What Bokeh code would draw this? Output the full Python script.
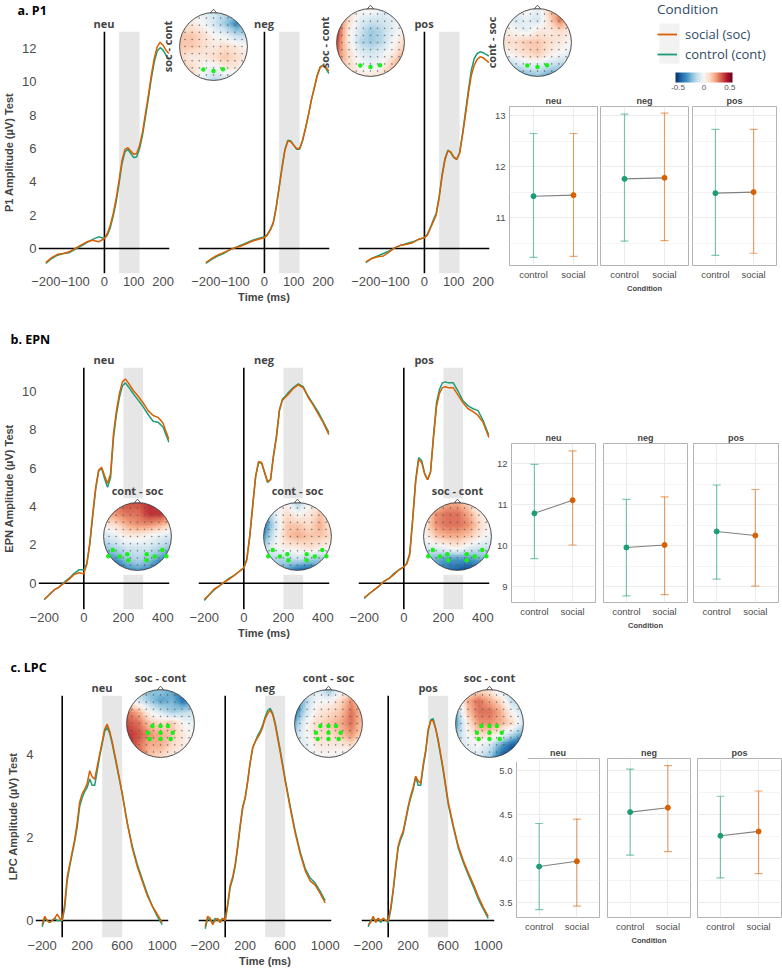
import numpy as np
from bokeh.plotting import figure
from bokeh.layouts import column
from bokeh.models import (Range1d, FactorRange, FixedTicker, Span, BoxAnnotation, GridBox,
                          LinearColorMapper, ColorBar, Legend, LegendItem, Title, Whisker,
                          TeeHead, Grid, CategoricalTicker, ColumnDataSource,
                          PrintfTickFormatter, NumeralTickFormatter)
from bokeh.core.properties import value
from bokeh.embed import file_html
from bokeh.resources import INLINE

# ============================ DATA ============================
conditions = ["neu", "neg", "pos"]
groups = ["control", "social"]

# ---- a. P1 ERP (µV) ----
p1_time = [-200, -180, -160, -140, -120, -100, -80, -60, -40, -20, 0, 10, 20, 30, 40, 50, 60, 70, 80, 90,
           100, 110, 120, 130, 140, 150, 160, 170, 180, 190, 200, 210, 220]
p1_neu_social = [-0.85, -0.55, -0.35, -0.3, -0.2, 0.0, 0.2, 0.4, 0.5, 0.4, 0.6, 0.9, 1.4, 2.1, 3.0, 4.1, 5.3, 5.95, 6.05, 5.85,
                 5.65, 5.7, 6.2, 7.0, 8.1, 9.2, 10.4, 11.4, 12.1, 12.38, 12.2, 11.9, 11.7]
p1_neu_control = [-0.9, -0.6, -0.4, -0.3, -0.25, -0.05, 0.15, 0.35, 0.55, 0.7, 0.6, 0.8, 1.25, 1.95, 2.8, 3.9, 5.1, 5.8, 5.95, 5.7,
                  5.45, 5.5, 6.0, 6.8, 7.9, 9.0, 10.2, 11.2, 11.85, 12.05, 11.9, 11.6, 11.4]
p1_neg_social = [-0.85, -0.6, -0.4, -0.25, -0.1, 0.05, 0.15, 0.3, 0.45, 0.55, 0.65, 0.8, 1.1, 1.5, 2.4, 3.6, 4.8, 5.9, 6.45, 6.4,
                 6.2, 6.0, 6.0, 6.5, 7.2, 8.0, 8.9, 9.6, 10.35, 10.85, 10.98, 10.85, 10.65]
p1_neg_control = [-0.9, -0.65, -0.45, -0.3, -0.1, 0.05, 0.2, 0.35, 0.5, 0.6, 0.7, 0.85, 1.15, 1.55, 2.5, 3.7, 4.9, 5.95, 6.5, 6.45,
                  6.2, 5.95, 5.95, 6.45, 7.2, 8.0, 8.9, 9.65, 10.4, 10.9, 11.0, 10.8, 10.5]
p1_pos_social = [-0.8, -0.6, -0.5, -0.45, -0.2, 0.05, 0.2, 0.25, 0.35, 0.55, 0.65, 0.8, 1.2, 1.6, 2.0, 3.0, 4.3, 5.3, 5.85, 5.8,
                 5.5, 5.35, 5.7, 6.8, 8.0, 9.3, 10.4, 11.0, 11.35, 11.5, 11.45, 11.3, 11.15]
p1_pos_control = [-0.85, -0.6, -0.45, -0.3, -0.15, 0.05, 0.2, 0.3, 0.4, 0.55, 0.65, 0.85, 1.25, 1.7, 2.1, 3.1, 4.4, 5.4, 5.9, 5.75,
                  5.45, 5.35, 5.75, 6.9, 8.2, 9.5, 10.7, 11.4, 11.7, 11.8, 11.75, 11.65, 11.55]
p1_window = [50, 120]
p1_xticks = [-200, -100, 0, 100, 200]
p1_yticks = [0, 2, 4, 6, 8, 10, 12]

# ---- b. EPN ERP (µV) ----
epn_time = [-200, -175, -150, -125, -100, -75, -50, -25, 0, 15, 30, 45, 60, 75, 90, 105, 120, 135, 150, 165,
            180, 195, 210, 225, 250, 275, 300, 325, 350, 375, 400, 430]
epn_neu_social = [-0.85, -0.6, -0.35, -0.2, 0.0, 0.2, 0.45, 0.55, 0.5, 1.0, 2.1, 3.6, 5.0, 5.9, 6.05, 5.6, 5.2, 5.7, 7.8, 9.0,
                  9.9, 10.5, 10.65, 10.45, 10.05, 9.75, 9.4, 9.0, 8.75, 8.65, 8.35, 7.5]
epn_neu_control = [-0.85, -0.6, -0.35, -0.2, 0.05, 0.25, 0.5, 0.7, 0.7, 1.0, 2.0, 3.5, 4.9, 5.85, 6.0, 5.45, 5.0, 5.5, 7.6, 8.8,
                   9.7, 10.3, 10.45, 10.25, 9.88, 9.55, 9.2, 8.8, 8.45, 8.4, 8.15, 7.35]
epn_neg_social = [-0.85, -0.6, -0.3, -0.15, 0.05, 0.2, 0.4, 0.6, 0.8, 1.2, 2.4, 4.0, 5.6, 6.35, 6.3, 5.8, 5.3, 5.4, 6.6, 7.6,
                  9.0, 9.55, 9.7, 9.85, 10.15, 10.35, 10.2, 9.7, 9.3, 8.85, 8.4, 7.75]
epn_neg_control = [-0.9, -0.6, -0.35, -0.15, 0.05, 0.25, 0.4, 0.6, 0.8, 1.25, 2.5, 4.1, 5.6, 6.3, 6.25, 5.75, 5.25, 5.4, 6.7, 7.7,
                   9.05, 9.6, 9.75, 9.95, 10.2, 10.4, 10.25, 9.75, 9.35, 8.95, 8.45, 7.85]
epn_pos_social = [-0.75, -0.55, -0.35, -0.15, 0.1, 0.25, 0.45, 0.7, 0.85, 1.0, 1.5, 3.3, 5.3, 6.45, 6.3, 5.7, 5.4, 5.8, 7.6, 9.2,
                  9.9, 10.2, 10.25, 10.2, 10.2, 9.8, 9.4, 9.1, 8.95, 8.75, 8.4, 7.6]
epn_pos_control = [-0.8, -0.55, -0.35, -0.15, 0.1, 0.25, 0.5, 0.7, 0.85, 1.05, 1.55, 3.4, 5.4, 6.55, 6.4, 5.75, 5.4, 5.8, 7.7, 9.4,
                   10.1, 10.45, 10.5, 10.45, 10.45, 10.0, 9.5, 9.25, 9.1, 9.0, 8.5, 7.7]
epn_window = [200, 300]
epn_xticks = [-200, 0, 200, 400]
epn_yticks = [0, 2, 4, 6, 8, 10]

# ---- c. LPC ERP (µV) ----
lpc_time = [-200, -175, -150, -125, -100, -75, -50, -25, 0, 25, 50, 75, 100, 125, 150, 175, 200, 225, 250, 275,
            300, 325, 350, 375, 400, 425, 450, 475, 500, 550, 600, 650, 700, 750, 800, 850, 900, 950, 1000]
lpc_neu_social = [-0.1, 0.1, 0.0, -0.05, 0.0, 0.05, 0.15, 0.05, 0.0,
                  0.4, 1.05, 1.35, 1.65, 1.95, 2.35, 2.85, 3.05, 3.15, 3.3, 3.6, 3.45, 3.4, 3.7, 4.0, 4.3, 4.6, 4.72, 4.55, 4.3,
                  3.7, 3.05, 2.35, 1.75, 1.3, 0.95, 0.6, 0.35, 0.15, -0.05]
lpc_neu_control = [-0.15, 0.05, 0.0, -0.05, 0.0, 0.05, 0.0, 0.0, 0.0,
                   0.3, 0.95, 1.3, 1.6, 1.9, 2.25, 2.75, 2.95, 3.1, 3.2, 3.4, 3.25, 3.25, 3.6, 3.95, 4.25, 4.55, 4.64, 4.5, 4.25,
                   3.65, 3.05, 2.35, 1.8, 1.35, 1.0, 0.65, 0.35, 0.1, -0.1]
lpc_neg_social = [-0.15, 0.1, 0.05, -0.1, 0.0, 0.05, -0.05, 0.05, 0.0,
                  0.4, 0.85, 1.05, 1.35, 1.8, 2.3, 2.75, 2.95, 3.35, 3.8, 4.15, 4.3, 4.4, 4.5, 4.65, 4.85, 4.98, 5.05, 4.95, 4.7,
                  4.05, 3.35, 2.7, 2.1, 1.6, 1.2, 0.95, 0.85, 0.65, 0.42]
lpc_neg_control = [-0.2, 0.05, 0.0, -0.05, 0.05, 0.0, 0.0, 0.05, 0.0,
                   0.35, 0.8, 1.0, 1.3, 1.75, 2.25, 2.7, 2.95, 3.35, 3.8, 4.15, 4.3, 4.45, 4.55, 4.7, 4.9, 5.05, 5.1, 4.98, 4.75,
                   4.1, 3.4, 2.75, 2.15, 1.65, 1.25, 1.02, 0.9, 0.7, 0.48]
lpc_pos_social = [-0.1, -0.05, 0.1, -0.05, 0.05, 0.0, 0.05, 0.0, 0.0,
                  0.3, 0.75, 1.3, 1.8, 2.0, 2.15, 2.45, 2.75, 3.0, 3.2, 3.47, 3.35, 3.3, 3.75, 4.1, 4.6, 4.8, 4.8, 4.6, 4.35,
                  3.65, 2.85, 2.3, 1.8, 1.45, 1.15, 0.88, 0.58, 0.32, 0.1]
lpc_pos_control = [-0.15, 0.0, 0.05, 0.0, 0.05, -0.05, 0.05, 0.0, -0.05,
                   0.25, 0.7, 1.25, 1.75, 1.95, 2.1, 2.4, 2.7, 2.95, 3.15, 3.45, 3.25, 3.25, 3.7, 4.05, 4.55, 4.82, 4.85, 4.62, 4.3,
                   3.6, 2.8, 2.25, 1.75, 1.4, 1.1, 0.82, 0.52, 0.28, 0.05]
lpc_window = [400, 600]
lpc_xticks = [-200, 200, 600, 1000]
lpc_yticks = [0, 2, 4]

# ---- mean amplitude with 95% CI (order: neu, neg, pos) ----
p1_control_mean = [11.42, 11.76, 11.48]
p1_control_low = [10.22, 10.54, 10.26]
p1_control_high = [12.65, 13.03, 12.73]
p1_social_mean = [11.44, 11.78, 11.50]
p1_social_low = [10.24, 10.55, 10.30]
p1_social_high = [12.65, 13.05, 12.73]
p1_ci_yticks = [11, 12, 13]
p1_ci_minor = [10.5, 11.5, 12.5]

epn_control_mean = [10.79, 9.96, 10.35]
epn_control_low = [9.69, 8.78, 9.19]
epn_control_high = [11.98, 11.13, 11.48]
epn_social_mean = [11.11, 10.02, 10.25]
epn_social_low = [10.02, 8.81, 9.02]
epn_social_high = [12.31, 11.19, 11.37]
epn_ci_yticks = [9, 10, 11, 12]
epn_ci_minor = [9.5, 10.5, 11.5]

lpc_control_mean = [3.91, 4.53, 4.26]
lpc_control_low = [3.42, 4.04, 3.78]
lpc_control_high = [4.40, 5.02, 4.71]
lpc_social_mean = [3.97, 4.58, 4.31]
lpc_social_low = [3.46, 4.08, 3.83]
lpc_social_high = [4.45, 5.06, 4.77]
lpc_ci_yticks = [3.5, 4.0, 4.5, 5.0]
lpc_ci_minor = [3.75, 4.25, 4.75]

# ---- topographies: difference (µV), 7x7 grid, rows front -> back, cols left -> right ----
p1_topo_labels = ["soc - cont", "soc - cont", "cont - soc"]
p1_topo_neu = [[0.0, 0.0, -0.05, -0.1, -0.15, -0.2, -0.2],
               [0.05, 0.05, 0.0, -0.1, -0.2, -0.35, -0.25],
               [0.15, 0.15, 0.1, 0.0, -0.05, -0.15, -0.15],
               [0.15, 0.15, 0.1, 0.05, 0.1, 0.05, 0.0],
               [0.1, 0.05, 0.05, 0.1, 0.15, 0.1, 0.05],
               [0.2, 0.1, 0.0, -0.05, 0.05, 0.05, -0.05],
               [0.25, 0.15, -0.05, -0.15, -0.1, -0.15, -0.15]]
p1_topo_neg = [[0.2, 0.05, 0.0, 0.05, -0.05, -0.05, 0.0],
               [0.35, 0.1, -0.05, -0.1, -0.1, -0.05, 0.0],
               [0.4, 0.05, -0.1, -0.2, -0.15, -0.05, 0.05],
               [0.35, 0.05, -0.15, -0.2, -0.15, 0.0, 0.1],
               [0.3, 0.1, -0.05, -0.1, -0.05, 0.05, 0.2],
               [0.25, 0.1, 0.0, -0.05, 0.0, 0.15, 0.3],
               [0.2, 0.1, 0.05, 0.05, 0.1, 0.25, 0.35]]
p1_topo_pos = [[-0.05, -0.05, 0.05, -0.05, 0.15, 0.25, 0.1],
               [0.0, -0.1, -0.05, -0.1, 0.1, 0.3, 0.1],
               [0.05, 0.0, -0.05, 0.05, 0.05, 0.1, 0.05],
               [0.1, 0.1, 0.15, 0.15, 0.1, 0.05, 0.0],
               [0.0, 0.05, 0.1, 0.15, 0.05, 0.0, -0.05],
               [-0.2, -0.1, -0.05, -0.05, -0.1, -0.15, -0.15],
               [-0.4, -0.35, -0.25, -0.2, -0.3, -0.3, -0.25]]
epn_topo_labels = ["cont - soc", "cont - soc", "soc - cont"]
epn_topo_neu = [[0.25, 0.3, 0.35, 0.35, 0.4, 0.35, 0.3],
                [0.2, 0.25, 0.3, 0.3, 0.4, 0.4, 0.3],
                [0.05, 0.1, 0.2, 0.25, 0.25, 0.2, 0.1],
                [-0.1, -0.05, 0.05, 0.05, 0.0, -0.05, -0.1],
                [-0.2, -0.15, -0.1, -0.1, -0.1, -0.15, -0.2],
                [-0.35, -0.3, -0.2, -0.15, -0.2, -0.3, -0.4],
                [-0.5, -0.5, -0.35, -0.3, -0.35, -0.5, -0.55]]
epn_topo_neg = [[-0.1, -0.05, 0.0, -0.2, 0.0, 0.05, 0.0],
                [-0.3, -0.05, 0.1, 0.0, 0.05, 0.15, 0.05],
                [-0.4, -0.1, 0.15, 0.15, 0.1, 0.2, 0.05],
                [-0.3, -0.05, 0.15, 0.2, 0.15, 0.15, 0.1],
                [-0.15, 0.0, 0.05, 0.05, 0.1, 0.05, 0.0],
                [-0.15, -0.15, -0.15, -0.1, -0.15, -0.2, -0.1],
                [-0.2, -0.25, -0.3, -0.4, -0.45, -0.3, -0.15]]
epn_topo_pos = [[0.0, 0.1, 0.2, 0.2, 0.1, -0.1, -0.05],
                [0.05, 0.25, 0.3, 0.3, 0.2, 0.05, -0.05],
                [0.05, 0.25, 0.3, 0.3, 0.25, 0.1, 0.0],
                [0.0, 0.15, 0.2, 0.2, 0.15, 0.05, -0.05],
                [-0.1, -0.05, 0.0, 0.05, -0.05, -0.1, -0.1],
                [-0.2, -0.25, -0.3, -0.3, -0.3, -0.25, -0.2],
                [-0.25, -0.35, -0.4, -0.45, -0.5, -0.45, -0.3]]
lpc_topo_labels = ["soc - cont", "cont - soc", "soc - cont"]
lpc_topo_neu = [[0.0, -0.15, -0.25, -0.2, -0.3, -0.45, -0.3],
                [0.1, -0.1, -0.2, -0.3, -0.25, -0.4, -0.3],
                [0.3, 0.2, 0.0, -0.1, -0.2, -0.15, -0.1],
                [0.35, 0.3, 0.15, 0.1, 0.15, 0.0, -0.05],
                [0.4, 0.35, 0.25, 0.2, 0.15, 0.05, 0.0],
                [0.45, 0.3, 0.2, 0.2, 0.1, 0.05, 0.0],
                [0.55, 0.35, 0.15, 0.1, 0.05, 0.0, -0.05]]
lpc_topo_neg = [[-0.2, -0.1, -0.05, -0.25, -0.05, 0.05, 0.0],
                [-0.45, -0.15, 0.0, 0.0, 0.1, 0.25, 0.1],
                [-0.4, -0.1, 0.05, 0.1, 0.15, 0.3, 0.15],
                [-0.25, 0.0, 0.1, 0.15, 0.2, 0.3, 0.15],
                [-0.15, 0.0, 0.1, 0.1, 0.15, 0.25, 0.1],
                [-0.1, -0.05, 0.05, 0.05, 0.05, 0.1, 0.0],
                [-0.05, -0.05, 0.0, 0.0, -0.05, -0.05, -0.05]]
lpc_topo_pos = [[0.0, 0.05, 0.1, 0.05, -0.1, -0.2, -0.1],
                [-0.15, 0.2, 0.3, 0.2, 0.1, -0.15, -0.2],
                [-0.25, 0.15, 0.3, 0.3, 0.2, 0.0, -0.1],
                [-0.3, 0.05, 0.25, 0.25, 0.2, 0.1, -0.1],
                [-0.2, 0.0, 0.1, 0.1, 0.0, -0.15, -0.3],
                [-0.1, -0.05, 0.0, -0.1, -0.3, -0.45, -0.5],
                [-0.05, -0.05, -0.1, -0.2, -0.45, -0.55, -0.55]]

# regions of interest (electrode positions, head radius = 1)
p1_roi_x = [-0.30, 0.0, 0.28]
p1_roi_y = [-0.68, -0.72, -0.67]
epn_roi_x = [-0.73, -0.86, -0.52, -0.30, -0.27, 0.27, 0.27, 0.51, 0.73, 0.85]
epn_roi_y = [-0.40, -0.58, -0.59, -0.52, -0.70, -0.52, -0.70, -0.59, -0.40, -0.58]
lpc_roi_x = [-0.24, 0.0, 0.22, -0.37, 0.0, 0.36, -0.32, 0.0, 0.30]
lpc_roi_y = [-0.07, -0.07, -0.07, -0.27, -0.27, -0.27, -0.46, -0.46, -0.46]

colorbar_ticks = [-0.5, 0, 0.5]

# ============================ STYLE / LAYOUT ============================
PAGE_W, PAGE_H = 782, 973
ORANGE = "#D95F02"
GREEN = "#1B9E77"
TXT_GRAY = "#4d4d4d"
LEG_COL = "#2f4a66"
RDBU = ['#053061', '#2166ac', '#4393c3', '#92c5de', '#d1e5f0', '#f7f7f7',
        '#fddbc7', '#f4a582', '#d6604d', '#b2182b', '#67001f']
try:
    from bokeh.palettes import interp_palette
    TOPO_PALETTE = list(interp_palette(RDBU, 256))
except Exception:
    TOPO_PALETTE = RDBU
topo_mapper = LinearColorMapper(palette=TOPO_PALETTE, low=-0.55, high=0.55)

SECTIONS = [
    dict(name="a. P1", name_xy=(17, 10), ylabel="P1 Amplitude (µV) Test",
         time=p1_time,
         social=[p1_neu_social, p1_neg_social, p1_pos_social],
         control=[p1_neu_control, p1_neg_control, p1_pos_control],
         window=p1_window, xticks=p1_xticks, yticks=p1_yticks,
         erp_lefts=[38, 198, 358], erp_w=131, erp_top=31, erp_bottom=273,
         xlim=(-225, 222), ylim=(-1.50, 13.02),
         topo=[p1_topo_neu, p1_topo_neg, p1_topo_pos], topo_labels=p1_topo_labels,
         roi=(p1_roi_x, p1_roi_y), topo_centers=[(213, 46), (370, 42), (537, 42)], topo_side="left",
         ci=dict(cm=p1_control_mean, cl=p1_control_low, ch=p1_control_high,
                 sm=p1_social_mean, sl=p1_social_low, sh=p1_social_high),
         ci_yticks=p1_ci_yticks, ci_minor=p1_ci_minor, ci_fmt="%d",
         ci_lefts=[509, 600, 692], ci_rights=[597, 688, 776], ci_top=106, ci_bottom=265,
         ci_ylim=(10.06, 13.18)),
    dict(name="b. EPN", name_xy=(10, 339), ylabel="EPN Amplitude (µV) Test",
         time=epn_time,
         social=[epn_neu_social, epn_neg_social, epn_pos_social],
         control=[epn_neu_control, epn_neg_control, epn_pos_control],
         window=epn_window, xticks=epn_xticks, yticks=epn_yticks,
         erp_lefts=[38, 198, 358], erp_w=131, erp_top=367, erp_bottom=609,
         xlim=(-229, 433), ylim=(-1.37, 11.25),
         topo=[epn_topo_neu, epn_topo_neg, epn_topo_pos], topo_labels=epn_topo_labels,
         roi=(epn_roi_x, epn_roi_y), topo_centers=[(137, 536), (297, 536), (457, 536)], topo_side="above",
         ci=dict(cm=epn_control_mean, cl=epn_control_low, ch=epn_control_high,
                 sm=epn_social_mean, sl=epn_social_low, sh=epn_social_high),
         ci_yticks=epn_ci_yticks, ci_minor=epn_ci_minor, ci_fmt="%d",
         ci_lefts=[511, 603, 693], ci_rights=[595, 687, 778], ci_top=443, ci_bottom=602,
         ci_ylim=(8.62, 12.49)),
    dict(name="c. LPC", name_xy=(10, 667), ylabel="LPC Amplitude (µV) Test",
         time=lpc_time,
         social=[lpc_neu_social, lpc_neg_social, lpc_pos_social],
         control=[lpc_neu_control, lpc_neg_control, lpc_pos_control],
         window=lpc_window, xticks=lpc_xticks, yticks=lpc_yticks,
         erp_lefts=[35, 198, 361], erp_w=133, erp_top=695, erp_bottom=937,
         xlim=(-267, 1063), ylim=(-0.41, 5.41),
         topo=[lpc_topo_neu, lpc_topo_neg, lpc_topo_pos], topo_labels=lpc_topo_labels,
         roi=(lpc_roi_x, lpc_roi_y), topo_centers=[(160, 723), (328, 723), (489, 723)], topo_side="above",
         ci=dict(cm=lpc_control_mean, cl=lpc_control_low, ch=lpc_control_high,
                 sm=lpc_social_mean, sl=lpc_social_low, sh=lpc_social_high),
         ci_yticks=lpc_ci_yticks, ci_minor=lpc_ci_minor, ci_fmt="%.1f",
         ci_lefts=[516, 607, 697], ci_rights=[599, 690, 781], ci_top=758, ci_bottom=917,
         ci_ylim=(3.33, 5.14)),
]


def base_fig(left, top, w, h, x_range, y_range, **kw):
    p = figure(frame_width=w, frame_height=h, x_range=x_range, y_range=y_range,
               min_border_left=left, min_border_top=top,
               min_border_right=PAGE_W - left - w, min_border_bottom=PAGE_H - top - h,
               toolbar_location=None, output_backend="svg", **kw)
    p.border_fill_color = None
    p.background_fill_color = None
    p.outline_line_color = None
    return p


def clean_axis(ax, size):
    ax.axis_line_color = None
    ax.major_tick_line_color = None
    ax.minor_tick_line_color = None
    ax.major_tick_out = 0
    ax.major_tick_in = 0
    ax.minor_tick_out = 0
    ax.minor_tick_in = 0
    ax.major_label_text_font_size = size
    ax.major_label_text_color = TXT_GRAY
    ax.major_label_text_font = "Liberation Sans"


def smooth_display(grid, n=42):
    """bilinear resampling of the electrode grid for display (scalp-map rendering)"""
    g = np.asarray(grid, dtype=float)
    src = np.linspace(0, 1, g.shape[0])
    dst = np.linspace(0, 1, n)
    rows = np.array([np.interp(dst, src, r) for r in g])
    return np.array([np.interp(dst, src, c) for c in rows.T]).T


figs = []

# ---------------- ERP panels ----------------
for sec in SECTIONS:
    for i, cond in enumerate(conditions):
        L = sec["erp_lefts"][i]
        p = base_fig(L, sec["erp_top"], sec["erp_w"], sec["erp_bottom"] - sec["erp_top"],
                     Range1d(*sec["xlim"]), Range1d(*sec["ylim"]),
                     x_axis_location="below", y_axis_location="left" if i == 0 else None,
                     title=cond)
        p.grid.visible = False
        p.title.align = "center"
        p.title.text_font = "Open Sans"
        p.title.text_font_style = "bold"
        p.title.text_font_size = "11px"
        p.title.standoff = 2
        xa = p.xaxis[0]
        clean_axis(xa, "13px")
        xa.ticker = FixedTicker(ticks=sec["xticks"])
        xa.major_label_standoff = 3
        if i == 1:
            xa.axis_label = "Time (ms)"
            xa.axis_label_text_font = "Liberation Sans"
            xa.axis_label_text_font_style = "bold"
            xa.axis_label_text_font_size = "11px"
            xa.axis_label_standoff = 2
        if i == 0:
            ya = p.yaxis[0]
            clean_axis(ya, "13px")
            ya.ticker = FixedTicker(ticks=sec["yticks"])
            ya.major_label_standoff = 2
            ya.axis_label = sec["ylabel"]
            ya.axis_label_text_font = "Liberation Sans"
            ya.axis_label_text_font_style = "bold"
            ya.axis_label_text_font_size = "11px"
            ya.axis_label_standoff = 4
        p.add_layout(BoxAnnotation(left=sec["window"][0], right=sec["window"][1], fill_color="#e6e6e6",
                                   fill_alpha=1.0, line_color=None, level="underlay"))
        p.add_layout(Span(location=0, dimension="height", line_color="black", line_width=1.6, level="underlay"))
        p.add_layout(Span(location=0, dimension="width", line_color="black", line_width=1.6, level="underlay"))
        p.line(sec["time"], sec["control"][i], line_color=GREEN, line_width=1.5)
        p.line(sec["time"], sec["social"][i], line_color=ORANGE, line_width=1.5)
        figs.append(p)

# ---------------- mean / CI panels ----------------
for sec in SECTIONS:
    ci = sec["ci"]
    for i, cond in enumerate(conditions):
        L = sec["ci_lefts"][i]
        w = sec["ci_rights"][i] - L
        p = base_fig(L, sec["ci_top"], w, sec["ci_bottom"] - sec["ci_top"],
                     FactorRange(factors=groups, range_padding=0.1), Range1d(*sec["ci_ylim"]),
                     x_axis_location="below", y_axis_location="left" if i == 0 else None,
                     title=cond)
        p.background_fill_color = "white"
        p.outline_line_color = "#b3b3b3"
        p.outline_line_width = 1
        p.grid.visible = False
        p.title.align = "center"
        p.title.text_font = "Liberation Sans"
        p.title.text_font_style = "bold"
        p.title.text_font_size = "9px"
        p.title.standoff = 1
        p.add_layout(Grid(dimension=1, ticker=FixedTicker(ticks=sec["ci_yticks"], minor_ticks=sec["ci_minor"]),
                          grid_line_color="#ebebeb", grid_line_width=1,
                          minor_grid_line_color="#f4f4f4", minor_grid_line_width=1))
        p.add_layout(Grid(dimension=0, ticker=CategoricalTicker(), grid_line_color="#ebebeb", grid_line_width=1))
        xa = p.xaxis[0]
        clean_axis(xa, "9.5px")
        xa.major_label_standoff = 3
        if i == 1:
            xa.axis_label = "Condition"
            xa.axis_label_text_font = "Liberation Sans"
            xa.axis_label_text_font_style = "bold"
            xa.axis_label_text_font_size = "7.5px"
            xa.axis_label_standoff = 1
        if i == 0:
            ya = p.yaxis[0]
            clean_axis(ya, "9.5px")
            ya.ticker = FixedTicker(ticks=sec["ci_yticks"])
            ya.formatter = PrintfTickFormatter(format=sec["ci_fmt"])
            ya.major_label_standoff = 4
        for grp, m, lo, hi, col in (("control", ci["cm"], ci["cl"], ci["ch"], GREEN),
                                    ("social", ci["sm"], ci["sl"], ci["sh"], ORANGE)):
            src = ColumnDataSource(dict(x=[grp], lo=[lo[i]], hi=[hi[i]]))
            p.add_layout(Whisker(source=src, base="x", lower="lo", upper="hi",
                                 line_color=col, line_alpha=0.55, line_width=1.2,
                                 upper_head=TeeHead(size=8, line_color=col, line_alpha=0.55, line_width=1.2),
                                 lower_head=TeeHead(size=8, line_color=col, line_alpha=0.55, line_width=1.2)))
        p.line(groups, [ci["cm"][i], ci["sm"][i]], line_color="#808080", line_width=1.1)
        p.scatter(["control"], [ci["cm"][i]], size=5, color=GREEN)
        p.scatter(["social"], [ci["sm"][i]], size=5, color=ORANGE)
        figs.append(p)

# ---------------- topographies ----------------
TOPO = 76
gx, gy = np.meshgrid(np.linspace(-0.84, 0.84, 9), np.linspace(-0.84, 0.84, 9))
inside = gx ** 2 + gy ** 2 < 0.9
sensor_x, sensor_y = gx[inside], gy[inside]
for sec in SECTIONS:
    for i, cond in enumerate(conditions):
        cx, cy = sec["topo_centers"][i]
        p = base_fig(cx - TOPO // 2, cy - TOPO // 2, TOPO, TOPO, Range1d(-1.12, 1.12), Range1d(-1.12, 1.12),
                     x_axis_location=None, y_axis_location=None)
        p.background_fill_color = "white"
        p.grid.visible = False
        lab = sec["topo_labels"][i]
        if sec["topo_side"] == "left":
            p.add_layout(Title(text=lab, align="center", text_font="Open Sans", text_font_style="bold",
                               text_font_size="11px", standoff=1), "left")
        else:
            p.title.text = lab
            p.title.align = "center"
            p.title.text_font = "Open Sans"
            p.title.text_font_style = "bold"
            p.title.text_font_size = "11px"
            p.title.standoff = 1
        grid = np.flipud(smooth_display(sec["topo"][i]))
        p.image(image=[grid], x=-1, y=-1, dw=2, dh=2, color_mapper=topo_mapper)
        p.annulus(x=0, y=0, inner_radius=1.0, outer_radius=1.75, fill_color="white", line_color=None)
        p.circle(x=0, y=0, radius=1.0, fill_color=None, line_color="#3a3a3a", line_width=0.9)
        p.patch(x=[-0.09, 0.0, 0.09], y=[0.995, 1.1, 0.995], fill_color="white", line_color="#3a3a3a",
                line_width=0.8)
        p.scatter(sensor_x, sensor_y, size=1.0, color="#555555", alpha=0.45)
        p.scatter(sec["roi"][0], sec["roi"][1], size=4.5, color="#18f018", line_color=None)
        figs.append(p)

# ---------------- legend ----------------
lp = base_fig(657, 0, 125, 68, Range1d(0, 125), Range1d(68, 0),
              x_axis_location=None, y_axis_location=None)
lp.grid.visible = False
lp.quad(left=[2], right=[22], top=[23], bottom=[63], fill_color="#f2f2f2", line_color=None)
# legend proxies (no visible data)
r_soc = lp.line([float("nan")], [float("nan")], line_color=ORANGE, line_width=1.8)
r_con = lp.line([float("nan")], [float("nan")], line_color=GREEN, line_width=1.8)
legend = Legend(items=[LegendItem(label="social (soc)", renderers=[r_soc]),
                       LegendItem(label="control (cont)", renderers=[r_con])],
                title="Condition", location="top_left", orientation="vertical",
                background_fill_alpha=0, border_line_color=None, padding=0, margin=0, spacing=0,
                glyph_width=20, glyph_height=20, label_height=20, label_standoff=8,
                label_text_font="Open Sans", label_text_font_size="13px", label_text_color=LEG_COL,
                title_text_font="Open Sans", title_text_font_size="13.5px", title_text_font_style="normal",
                title_text_color=LEG_COL, title_standoff=6)
lp.add_layout(legend)
figs.append(lp)

# ---------------- colour bar ----------------
cp = base_fig(675, 72, 62, 24, Range1d(0, 1), Range1d(0, 1), x_axis_location=None, y_axis_location=None)
cp.grid.visible = False
cbar = ColorBar(color_mapper=topo_mapper, orientation="horizontal", location="top_left",
                width=57, height=10, margin=0, padding=0, label_standoff=2,
                ticker=FixedTicker(ticks=colorbar_ticks), formatter=NumeralTickFormatter(format="0.[0]"),
                major_label_text_font_size="8px", major_label_text_color="#555555",
                major_label_text_font="Liberation Sans",
                major_tick_line_color=None, minor_tick_line_color=None, bar_line_color=None,
                background_fill_alpha=0, border_line_color=None)
cp.add_layout(cbar)
figs.append(cp)

# ---------------- section headings ----------------
hp = base_fig(0, 0, PAGE_W, PAGE_H, Range1d(0, PAGE_W), Range1d(PAGE_H, 0),
              x_axis_location=None, y_axis_location=None)
hp.grid.visible = False
hp.text(x=[s["name_xy"][0] for s in SECTIONS], y=[s["name_xy"][1] for s in SECTIONS],
        text=[s["name"] for s in SECTIONS], text_font=value("Open Sans"), text_font_style="bold",
        text_font_size="12.5px", text_align="left", text_baseline="middle", text_color="black")
figs.append(hp)

layout = GridBox(children=[(column(f), 0, 0) for f in figs])
open("out.html", "w").write(file_html(layout, INLINE))
